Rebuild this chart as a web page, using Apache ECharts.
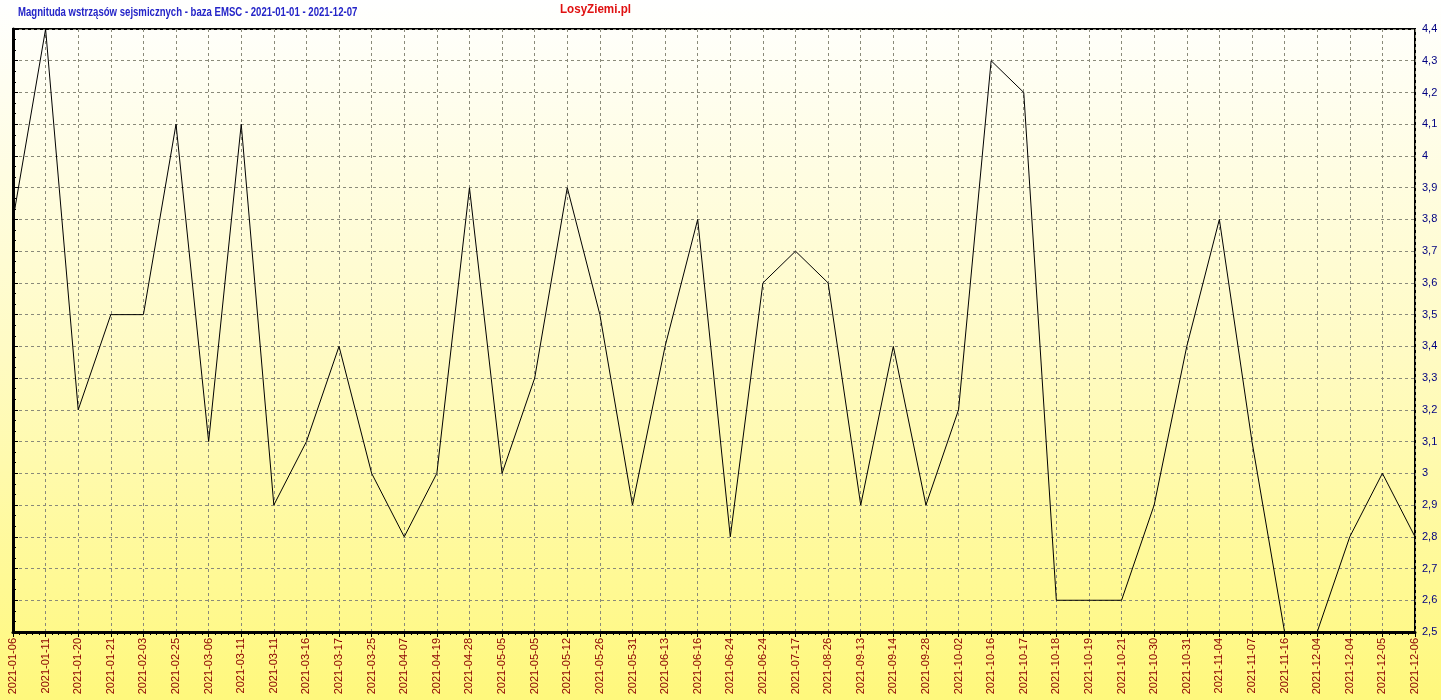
<!DOCTYPE html>
<html>
<head>
<meta charset="utf-8">
<script src="https://cdn.jsdelivr.net/npm/echarts@6/dist/echarts.min.js"></script>
<style>
html,body{margin:0;padding:0;width:1441px;height:700px;overflow:hidden;}
#c{width:1441px;height:700px;}
</style>
</head>
<body>
<div id="c"></div>
<script>
const titleText = 'Magnituda wstrząsów sejsmicznych - baza EMSC - 2021-01-01 - 2021-12-07';
const siteText = 'LosyZiemi.pl';
const categories = [
  '2021-01-06','2021-01-11','2021-01-20','2021-01-21','2021-02-03','2021-02-25','2021-03-06','2021-03-11',
  '2021-03-11','2021-03-16','2021-03-17','2021-03-25','2021-04-07','2021-04-19','2021-04-28','2021-05-05',
  '2021-05-05','2021-05-12','2021-05-26','2021-05-31','2021-06-13','2021-06-16','2021-06-24','2021-06-24',
  '2021-07-17','2021-08-26','2021-09-13','2021-09-14','2021-09-28','2021-10-02','2021-10-16','2021-10-17',
  '2021-10-18','2021-10-19','2021-10-21','2021-10-30','2021-10-31','2021-11-04','2021-11-07','2021-11-16',
  '2021-12-04','2021-12-04','2021-12-05','2021-12-06'
];
const magnitudes = [
  3.8,4.4,3.2,3.5,3.5,4.1,3.1,4.1,
  2.9,3.1,3.4,3.0,2.8,3.0,3.9,3.0,
  3.3,3.9,3.5,2.9,3.4,3.8,2.8,3.6,
  3.7,3.6,2.9,3.4,2.9,3.2,4.3,4.2,
  2.6,2.6,2.6,2.9,3.4,3.8,3.1,2.5,
  2.5,2.8,3.0,2.8
];
const yMin = 2.5, yMax = 4.4, yStep = 0.1;

const chart = echarts.init(document.getElementById('c'), null, {renderer:'canvas'});
const gridLine = {show:true, lineStyle:{color:'#8a8a7a', type:[3,3], width:1}};
chart.setOption({
  animation:false,
  backgroundColor:{type:'linear',x:0,y:0,x2:0,y2:1,colorStops:[
    {offset:0,color:'#ffffff'},{offset:0.5,color:'#fffbc4'},{offset:1,color:'#fff87c'}]},
  graphic:[
    {type:'text',left:18,top:5,scaleX:0.71,scaleY:1,originX:0,
     style:{text:titleText,font:'bold 13.5px "Liberation Sans", Arial, sans-serif',fill:'#2424c8'}},
    {type:'text',left:560,top:2,scaleX:0.86,scaleY:1,originX:0,
     style:{text:siteText,font:'bold 13.5px "Liberation Sans", Arial, sans-serif',fill:'#e01010'}}
  ],
  grid:{left:13,right:26,top:29,bottom:68,show:true,borderColor:'#000',borderWidth:2,backgroundColor:'transparent'},
  xAxis:[
    {type:'category',data:categories,boundaryGap:false,position:'bottom',
     axisLine:{show:true,lineStyle:{color:'#000',width:3}},
     axisTick:{show:true,interval:0,length:5,lineStyle:{color:'#000'}},
     axisLabel:{interval:0,rotate:90,color:'#8b0000',fontSize:11,fontFamily:'Liberation Sans, Arial, sans-serif',margin:6},
     splitLine:{show:true,interval:0,lineStyle:{color:'#8a8a7a',type:[3,3],width:1}}},
    {type:'value',min:0,max:categories.length-1,interval:1,position:'bottom',
     axisLine:{show:false},axisLabel:{show:false},splitLine:{show:false},
     axisTick:{show:false},
     minorTick:{show:true,splitNumber:5,length:3,lineStyle:{color:'#000'}}}
  ],
  yAxis:{type:'value',position:'right',min:yMin,max:yMax,interval:yStep,
    axisLine:{show:true,lineStyle:{color:'#000',width:3}},
    axisTick:{show:true,length:5,lineStyle:{color:'#000'}},
    minorTick:{show:true,splitNumber:3,length:3,lineStyle:{color:'#000'}},
    axisLabel:{color:'#000080',fontSize:11,fontFamily:'Liberation Sans, Arial, sans-serif',margin:7,
      formatter:v=>String(Math.round(v*10)/10).replace('.',',')},
    splitLine:gridLine},
  series:[{type:'line',data:magnitudes,xAxisIndex:0,symbol:'none',
    lineStyle:{color:'#000',width:1},itemStyle:{color:'#000'}}]
});
</script>
</body>
</html>
